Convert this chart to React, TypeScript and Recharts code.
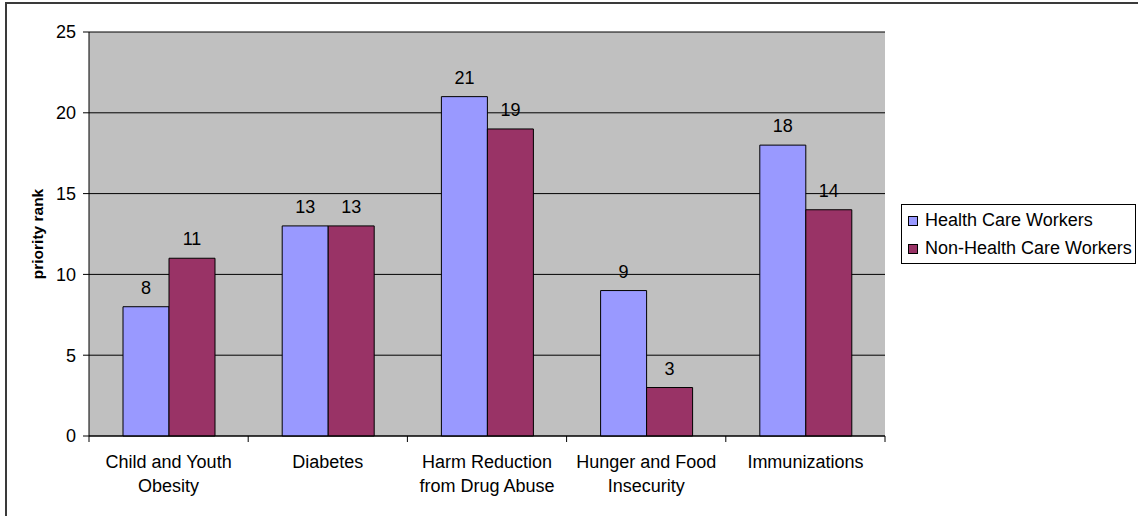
import React from "react";
import {
  Bar,
  BarChart,
  CartesianGrid,
  LabelList,
  XAxis,
  YAxis,
} from "recharts";

// ---------------------------------------------------------------------------
// Data
// ---------------------------------------------------------------------------

const categories = [
  "Child and Youth\nObesity",
  "Diabetes",
  "Harm Reduction\nfrom Drug Abuse",
  "Hunger and Food\nInsecurity",
  "Immunizations",
];
const healthCareWorkers = [8, 13, 21, 9, 18];
const nonHealthCareWorkers = [11, 13, 19, 3, 14];
const yTicks = [0, 5, 10, 15, 20, 25];

const seriesInfo = [
  { key: "hcw", name: "Health Care Workers", color: "#9999FF" },
  { key: "nhcw", name: "Non-Health Care Workers", color: "#993366" },
];

const data = categories.map((c, i) => ({
  category: c,
  hcw: healthCareWorkers[i],
  nhcw: nonHealthCareWorkers[i],
}));

const FONT = '"Liberation Sans", Arial, sans-serif';
const TEXT_SIZE = 18;

// ---------------------------------------------------------------------------
// Category tick: label + boundary tick marks
// ---------------------------------------------------------------------------

function CategoryTick(props: any) {
  const { x, y, payload, index } = props;
  const half = payload?.offset ?? 796 / categories.length / 2;
  const lines = String(payload.value).split("\n");
  const last = index === categories.length - 1;
  return (
    <g>
      <line x1={x - half} y1={y} x2={x - half} y2={y + 6} stroke="#000" />
      {last && <line x1={x + half} y1={y} x2={x + half} y2={y + 6} stroke="#000" />}
      <text
        x={x}
        y={y + 32}
        textAnchor="middle"
        fill="#000"
        fontSize={TEXT_SIZE}
        fontFamily={FONT}
      >
        {lines.map((l, i) => (
          <tspan key={i} x={x} dy={i === 0 ? 0 : 24}>
            {l}
          </tspan>
        ))}
      </text>
    </g>
  );
}

export default function App() {
  return (
    <div
      style={{
        position: "absolute",
        top: 0,
        left: 0,
        width: 1138,
        height: 516,
        overflow: "hidden",
        background: "#fff",
        fontFamily: FONT,
      }}
    >
      {/* outer frame (right/bottom edges fall outside the picture) */}
      <div
        style={{
          position: "absolute",
          left: 5,
          top: 2,
          width: 2000,
          height: 2000,
          border: "2px solid #3a3a3a",
        }}
      />

      <BarChart
        width={1138}
        height={516}
        data={data}
        margin={{ top: 32, right: 253, bottom: 0, left: 0 }}
        barCategoryGap={34}
        barGap={0}
        style={{ position: "absolute", left: 0, top: 0 }}
      >
        <CartesianGrid
          vertical={false}
          stroke="#000"
          fill="#C0C0C0"
          fillOpacity={1}
        />
        <XAxis
          dataKey="category"
          height={80}
          axisLine={{ stroke: "#000" }}
          tickLine={false}
          tickSize={0}
          tickMargin={0}
          interval={0}
          tick={<CategoryTick />}
        />
        <XAxis
          xAxisId="top"
          orientation="top"
          dataKey="category"
          height={0}
          tick={false}
          tickLine={false}
          axisLine={{ stroke: "#808080" }}
        />
        <YAxis
          width={89}
          domain={[0, 25]}
          ticks={yTicks}
          interval={0}
          axisLine={{ stroke: "#000" }}
          tickLine={{ stroke: "#000" }}
          tickSize={6}
          tickMargin={7}
          tick={{ fill: "#000", fontSize: TEXT_SIZE, fontFamily: FONT }}
          label={{
            content: ({ viewBox }: any) => {
              const cy = viewBox.y + viewBox.height / 2;
              return (
                <text
                  x={37}
                  y={cy}
                  transform={`rotate(-90, 37, ${cy})`}
                  textAnchor="middle"
                  dominantBaseline="central"
                  fontSize={15.5}
                  fontWeight="bold"
                  fontFamily={FONT}
                  fill="#000"
                >
                  priority rank
                </text>
              );
            },
          }}
        />
        <YAxis
          yAxisId="right"
          orientation="right"
          width={0}
          domain={[0, 25]}
          tick={false}
          tickLine={false}
          axisLine={{ stroke: "#808080" }}
        />
        {seriesInfo.map((s) => (
          <Bar
            key={s.key}
            dataKey={s.key}
            name={s.name}
            fill={s.color}
            stroke="#000"
            strokeWidth={1}
            isAnimationActive={false}
          >
            <LabelList
              dataKey={s.key}
              position="top"
              offset={13}
              fill="#000"
              fontSize={TEXT_SIZE}
              fontFamily={FONT}
            />
          </Bar>
        ))}
      </BarChart>

      {/* legend */}
      <div
        style={{
          position: "absolute",
          left: 901,
          top: 204,
          width: 233,
          padding: "1px 0",
          border: "1px solid #000",
          background: "#fff",
          fontSize: TEXT_SIZE,
          lineHeight: "28px",
          color: "#000",
          whiteSpace: "nowrap",
        }}
      >
        {seriesInfo.map((s) => (
          <div key={s.key} style={{ paddingLeft: 6 }}>
            <span
              style={{
                display: "inline-block",
                width: 8,
                height: 8,
                background: s.color,
                border: "1px solid #000",
                marginRight: 7,
                verticalAlign: "baseline",
              }}
            />
            {s.name}
          </div>
        ))}
      </div>
    </div>
  );
}
